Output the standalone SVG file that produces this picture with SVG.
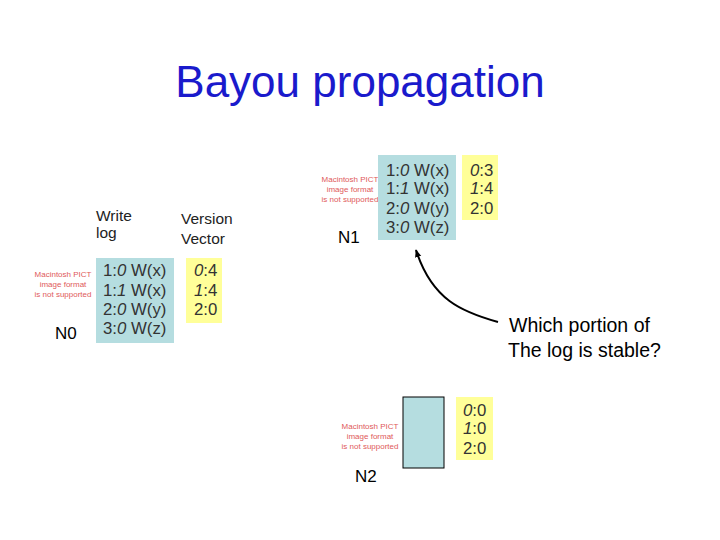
<svg xmlns="http://www.w3.org/2000/svg" width="720" height="540" viewBox="0 0 720 540">
<defs>
<style>
text{font-family:"Liberation Sans",Arial,sans-serif}
.title{font-size:44px;fill:#1a1acc;text-anchor:middle}
.lbl{font-size:15.5px;fill:#222}
.node{font-size:17px;fill:#000}
.log{fill:#b5dde0}
.vv{fill:#ffff99}
.t{font-size:16.8px;fill:#333}
.i{font-style:italic}
.pict{font-size:8px;fill:#e05a5a;text-anchor:middle}
.q{font-size:19.5px;fill:#000}
</style>
<marker id="ah" viewBox="0 0 10 10" refX="9" refY="5" markerWidth="8" markerHeight="8" orient="auto-start-reverse" markerUnits="userSpaceOnUse">
<path d="M0,1 L10,5 L0,9 z" fill="#000"/>
</marker>
</defs>
<rect width="720" height="540" fill="#fff"/>
<text class="title" x="360" y="97">Bayou propagation</text>

<g id="n0">
<text class="pict" x="63" y="277">Macintosh PICT</text>
<text class="pict" x="63" y="287">image format</text>
<text class="pict" x="63" y="297">is not supported</text>
<text class="node" x="55" y="339">N0</text>
<text class="lbl" x="96" y="221" font-size="13.5">Write</text>
<text class="lbl" x="96" y="238" font-size="13.5">log</text>
<text class="lbl" x="181" y="224">Version</text>
<text class="lbl" x="181" y="244">Vector</text>
<rect class="log" x="96" y="258" width="78" height="85"/>
<text class="t" x="103" y="276">1:<tspan class="i">0</tspan> W(x)</text>
<text class="t" x="103" y="296">1:<tspan class="i">1</tspan> W(x)</text>
<text class="t" x="103" y="315">2:<tspan class="i">0</tspan> W(y)</text>
<text class="t" x="103" y="334">3:<tspan class="i">0</tspan> W(z)</text>
<rect class="vv" x="186" y="258" width="36" height="65"/>
<text class="t" x="194" y="276"><tspan class="i">0</tspan>:4</text>
<text class="t" x="194" y="296"><tspan class="i">1</tspan>:4</text>
<text class="t" x="194" y="315">2:0</text>
</g>

<g id="n1">
<text class="pict" x="350" y="182">Macintosh PICT</text>
<text class="pict" x="350" y="192">image format</text>
<text class="pict" x="350" y="202">is not supported</text>
<text class="node" x="338" y="243">N1</text>
<rect class="log" x="378" y="155" width="78" height="85"/>
<text class="t" x="386" y="176">1:<tspan class="i">0</tspan> W(x)</text>
<text class="t" x="386" y="194">1:<tspan class="i">1</tspan> W(x)</text>
<text class="t" x="386" y="214">2:<tspan class="i">0</tspan> W(y)</text>
<text class="t" x="386" y="233">3:<tspan class="i">0</tspan> W(z)</text>
<rect class="vv" x="462" y="155" width="36" height="65"/>
<text class="t" x="470" y="176"><tspan class="i">0</tspan>:3</text>
<text class="t" x="470" y="194"><tspan class="i">1</tspan>:4</text>
<text class="t" x="470" y="214">2:0</text>
</g>

<g id="n2">
<text class="pict" x="370" y="429">Macintosh PICT</text>
<text class="pict" x="370" y="439">image format</text>
<text class="pict" x="370" y="449">is not supported</text>
<text class="node" x="355" y="482">N2</text>
<rect class="log" x="403" y="397" width="41" height="71" stroke="#000" stroke-width="1"/>
<rect class="vv" x="456" y="397" width="37" height="63"/>
<text class="t" x="463" y="416"><tspan class="i">0</tspan>:0</text>
<text class="t" x="463" y="434"><tspan class="i">1</tspan>:0</text>
<text class="t" x="463" y="454">2:0</text>
</g>

<g id="note">
<text class="q" x="509" y="332">Which portion of</text>
<text class="q" x="508" y="357">The log is stable?</text>
</g>

<g id="connectors">
<path d="M498,322 C462,312 432,300 416,250" fill="none" stroke="#000" stroke-width="2" marker-end="url(#ah)"/>
</g>
</svg>
